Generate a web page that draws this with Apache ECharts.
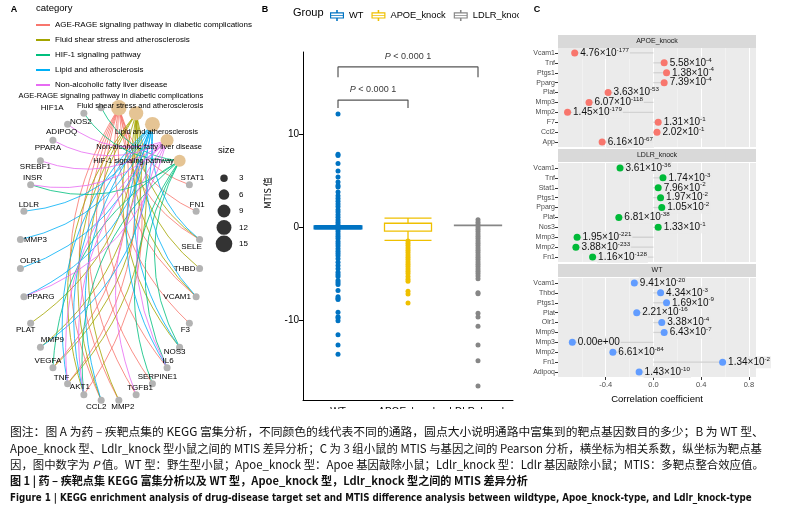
<!DOCTYPE html>
<html><head><meta charset="utf-8">
<script src="https://cdn.jsdelivr.net/npm/echarts@6/dist/echarts.min.js"></script>
<style>html,body{margin:0;padding:0;background:#fff}#c{width:801px;height:518px}</style>
</head><body><div id="c"></div>
<script>
// ================= Panel A data =================
const pathways = ['AGE-RAGE signaling pathway in diabetic complications','Fluid shear stress and atherosclerosis','HIF-1 signaling pathway','Lipid and atherosclerosis','Non-alcoholic fatty liver disease'];
const pathwayColors = ['#F8766D','#A3A500','#00BF7D','#00B0F6','#E76BF3'];
const pathwayCircleOrder = ['AGE-RAGE signaling pathway in diabetic complications','Fluid shear stress and atherosclerosis','Lipid and atherosclerosis','Non-alcoholic fatty liver disease','HIF-1 signaling pathway'];
const geneCircleOrder = ['STAT1','FN1','SELE','THBD','VCAM1','F3','NOS3','IL6','SERPINE1','TGFB1','MMP2','CCL2','AKT1','TNF','VEGFA','MMP9','PLAT','PPARG','OLR1','MMP3','LDLR','INSR','SREBF1','PPARA','ADIPOQ','NOS2','HIF1A'];
const genesAGE = ['STAT1','FN1','SELE','VCAM1','F3','IL6','SERPINE1','TGFB1','MMP2','CCL2','AKT1','TNF','VEGFA'];
const genesFluid = ['SELE','THBD','VCAM1','NOS3','MMP2','MMP9','PLAT','CCL2','AKT1','TNF','VEGFA'];
const genesHIF = ['HIF1A','NOS2','INSR','SERPINE1','IL6','NOS3','VEGFA','AKT1'];
const genesLipid = ['OLR1','LDLR','MMP3','MMP9','PPARG','CCL2','SELE','VCAM1','TNF','IL6','AKT1','NOS3'];
const genesNAFLD = ['ADIPOQ','PPARA','SREBF1','INSR','PPARG','TNF','IL6','TGFB1','AKT1'];
const pathwayGenes = [genesAGE, genesFluid, genesHIF, genesLipid, genesNAFLD];
const sizeLegend = [3,6,9,12,15];

// label offsets (style only)
const labelOffsets = {
 'AGE-RAGE signaling pathway in diabetic complications':[-8,-12],
 'Fluid shear stress and atherosclerosis':[4,-7],
 'Lipid and atherosclerosis':[4,8],
 'Non-alcoholic fatty liver disease':[-18,7],
 'HIF-1 signaling pathway':[-46,0],
 HIF1A:[-49,0], NOS2:[-3,8], ADIPOQ:[-6,7], PPARA:[-5,7], SREBF1:[-5,6], INSR:[2,-7], LDLR:[5,-7],
 MMP3:[15,0], OLR1:[10,-8], PPARG:[17,0], PLAT:[-5,7], MMP9:[12,-7], VEGFA:[-5,-7], TNF:[-6,-6],
 AKT1:[-4,-8], CCL2:[-5,7], MMP2:[4,7], TGFB1:[4,-7], SERPINE1:[5,-7], IL6:[1,-7], NOS3:[-5,5],
 F3:[-4,7], VCAM1:[-19,0], THBD:[-15,0], SELE:[-8,7], FN1:[1,-7], STAT1:[3,-7]
};

// ================= Panel B data =================
const groups = ['WT','APOE_knock','LDLR_knock'];
const groupColors = ['#0073C2','#EFC000','#868686'];
const boxStats = [[-0.15,-0.12,0,0.12,0.15],[-1.4,-0.4,0.43,0.46,1.0],[0.2,0.2,0.22,0.24,0.24]];
const wtMtis = [12.15,7.85,7.7,6.85,6.05,5.4,4.87,4.5,4.33,3.8,3.4,3.1,2.8,2.5,2.25,1.9,1.65,1.35,1.1,0.8,0.55,0.3,0.1,-0.2,-0.45,-0.7,-0.95,-1.2,-1.5,-1.75,-2.0,-2.3,-2.55,-2.8,-3.05,-3.37,-3.73,-4.09,-4.44,-4.8,-5.05,-5.27,-5.7,-5.9,-6.13,-6.77,-7.42,-7.6,-7.74,-9.1,-9.57,-9.71,-10.0,-11.5,-12.6,-13.6];
const apoeMtis = [-1.45,-1.7,-1.95,-2.2,-2.45,-2.7,-2.95,-3.2,-3.45,-3.7,-3.95,-4.2,-4.45,-4.7,-4.95,-5.27,-5.56,-5.77,-6.85,-7.13,-8.1];
const ldlrMtis = [0.83,0.55,0.3,0.05,-0.2,-0.45,-0.7,-0.95,-1.2,-1.45,-1.7,-1.95,-2.2,-2.45,-2.7,-2.95,-3.2,-3.45,-3.7,-3.95,-4.2,-4.45,-4.7,-4.95,-5.2,-5.5,-7.0,-7.1,-9.2,-9.6,-10.6,-12.6,-14.3,-17.0];
const groupPoints = [wtMtis, apoeMtis, ldlrMtis];
const bTicks = [-10,0,10];
const bracket1 = {from:0, to:1, top:13.65, foot:12.8, text:'P < 0.000 1'};
const bracket2 = {from:0, to:2, top:17.2, foot:16.1, text:'P < 0.000 1'};

// ================= Panel C data =================
const apoeGenes = ['Vcam1','Tnf','Ptgs1','Pparg','Plat','Mmp3','Mmp2','F7','Ccl2','App'];
const apoeCorr = [-0.66,0.09,0.11,0.09,-0.38,-0.54,-0.72,0.04,0.03,-0.43];
const apoeP = ['4.76×10^-177','5.58×10^-4','1.38×10^-4','7.39×10^-4','3.63×10^-53','6.07×10^-118','1.45×10^-179','1.31×10^-1','2.02×10^-1','6.16×10^-67'];
const ldlrGenes = ['Vcam1','Tnf','Stat1','Ptgs1','Pparg','Plat','Nos3','Mmp3','Mmp2','Fn1'];
const ldlrCorr = [-0.28,0.08,0.04,0.06,0.07,-0.29,0.04,-0.64,-0.65,-0.51];
const ldlrP = ['3.61×10^-36','1.74×10^-3','7.96×10^-2','1.97×10^-2','1.05×10^-2','6.81×10^-38','1.33×10^-1','1.95×10^-221','3.88×10^-233','1.16×10^-128'];
const wtGenes = ['Vcam1','Thbd','Ptgs1','Plat','Olr1','Mmp9','Mmp3','Mmp2','Fn1','Adipoq'];
const wtCorr = [-0.16,0.06,0.11,-0.14,0.07,0.09,-0.68,-0.34,0.58,-0.12];
const wtP = ['9.41×10^-20','4.34×10^-3','1.69×10^-9','2.21×10^-16','3.38×10^-4','6.43×10^-7','0.00e+00','6.61×10^-84','1.34×10^-2','1.43×10^-10'];
const cTicks = [-0.4,0,0.4,0.8];
const facets = [
  {title:'APOE_knock', genes:apoeGenes, corr:apoeCorr, p:apoeP, color:'#F8766D'},
  {title:'LDLR_knock', genes:ldlrGenes, corr:ldlrCorr, p:ldlrP, color:'#00BA38'},
  {title:'WT', genes:wtGenes, corr:wtCorr, p:wtP, color:'#619CFF'}
];

// ================= build =================
const FONT = 'Liberation Sans, Arial, sans-serif';
const circleNodes = pathwayCircleOrder.concat(geneCircleOrder);
const N = circleNodes.length;
const idx = {}; circleNodes.forEach((n,i)=>idx[n]=i);
const pos = circleNodes.map((n,i)=>{const t=(i+0.5)*2*Math.PI/N; return [Math.sin(t), Math.cos(t)];});
const sizeOf = c => 4.3*Math.sqrt(c);

const nodes = circleNodes.map((name,i)=>{
  const pi = pathways.indexOf(name);
  const isPath = pi >= 0;
  return {
    name, value: pos[i],
    category: isPath ? pi : undefined,
    symbolSize: isPath ? sizeOf(pathwayGenes[pi].length) : 7,
    itemStyle: {color: isPath ? '#E5C494' : '#B3B3B3'},
    label: {show:true, position:'inside', offset: labelOffsets[name] || [0,0],
      fontSize: isPath ? 7.5 : 8, color:'#000', fontFamily: FONT}
  };
});
const links = [];
pathways.forEach((p,pi)=>{
  pathwayGenes[pi].forEach(g=>{
    const s = idx[p], t = idx[g];
    const X1 = 90*pos[s][0], Y1 = -147*pos[s][1], X2 = 90*pos[t][0], Y2 = -147*pos[t][1];
    const MX=(X1+X2)/2, MY=(Y1+Y2)/2;
    const d = (Y2-Y1)*(-MX) + (X1-X2)*(-MY);
    links.push({source:s, target:t, lineStyle:{color:pathwayColors[pi], width:0.9, opacity:0.9, curveness: d>0?0.27:-0.27}});
  });
});

const boxIcon = 'path://M9,0H11V3H9Z M1,3H19V11H1Z M2.5,4.5V6.5H17.5V4.5Z M2.5,7.5V9.5H17.5V7.5Z M9,11H11V14H9Z';

function pRich(s){
  const k = s.indexOf('^');
  if (k < 0) return '{b|'+s+'}';
  return '{b|'+s.slice(0,k)+'}{s|'+s.slice(k+1)+'}';
}

const grids = [
  {left:2, top:92.3, width:216, height:323.4},
  {left:214, top:170, width:20, height:82},
  {left:303, top:52, width:210, height:348},
  {left:558, top:48, width:198, height:99},
  {left:558, top:163, width:198, height:99},
  {left:558, top:278, width:198, height:99}
];
grids.forEach((g,i)=>{ if(i>=3){ g.show=true; g.backgroundColor='#EBEBEB'; g.borderWidth=0; } });

const xAxes = [
  {gridIndex:0, type:'value', min:-1.2, max:1.2, show:false},
  {gridIndex:1, type:'value', min:0, max:1, show:false},
  {gridIndex:2, type:'category', data:groups, boundaryGap:true,
    axisLine:{onZero:false, lineStyle:{color:'#000', width:1}}, axisTick:{alignWithLabel:true, length:4, lineStyle:{color:'#000'}},
    axisLabel:{fontSize:10, color:'#000', margin:7, interval:0}},
  {gridIndex:2, type:'value', min:-0.5, max:2.5, show:false}
];
const yAxes = [
  {gridIndex:0, type:'value', min:-1.1, max:1.1, show:false},
  {gridIndex:1, type:'category', data:sizeLegend.map(String), inverse:true, position:'right',
    axisLine:{show:false}, axisTick:{show:false}, axisLabel:{fontSize:8, color:'#000', margin:5}},
  {gridIndex:2, type:'value', min:-18.5, max:18.8, splitLine:{show:false},
    axisLine:{show:true, onZero:false, lineStyle:{color:'#000', width:1}},
    axisTick:{show:true, length:4, lineStyle:{color:'#000'}, customValues:bTicks},
    axisLabel:{fontSize:10, color:'#000', customValues:bTicks, margin:4}}
];
facets.forEach((f,k)=>{
  const last = k===2;
  xAxes.push({gridIndex:3+k, type:'value', min:-0.8, max:0.86, interval:0.4,
    axisLine:{show:false, onZero:false},
    axisTick:{show:last, length:3, lineStyle:{color:'#333'}, customValues:cTicks},
    axisLabel:{show:last, fontSize:7.5, color:'#4D4D4D', margin:4, customValues:cTicks,
      formatter:v=> (Math.abs(v)<1e-9 ? '0.0' : v.toFixed(1))},
    splitLine:{show:true, lineStyle:{color:'#fff', width:1}},
    minorTick:{show:false, splitNumber:2},
    minorSplitLine:{show:true, lineStyle:{color:'#F7F7F7', width:0.6}},
    name: last ? 'Correlation coefficient' : '', nameLocation:'middle', nameGap:17,
    nameTextStyle:{fontSize:9.5, color:'#000'}
  });
  yAxes.push({gridIndex:3+k, type:'category', data:f.genes, inverse:true,
    axisLine:{show:false, onZero:false}, axisTick:{show:true, alignWithLabel:true, length:3, lineStyle:{color:'#333'}},
    axisLabel:{fontSize:7, color:'#4D4D4D', margin:3}, splitLine:{show:false}});
});

const series = [];
series.push({type:'graph', coordinateSystem:'cartesian2d', xAxisIndex:0, yAxisIndex:0,
  data:nodes, links, categories: pathways.map((p,i)=>({name:p, itemStyle:{color:pathwayColors[i]}})),
  symbol:'circle', emphasis:{disabled:true}, silent:true, z:3});
series.push({type:'scatter', xAxisIndex:1, yAxisIndex:1, silent:true,
  data: sizeLegend.map((s,i)=>({value:[0.5,i], symbolSize:sizeOf(s)})), itemStyle:{color:'#000'}});
series.push({type:'boxplot', xAxisIndex:2, yAxisIndex:2, boxWidth:[47,47], silent:true,
  data: boxStats.map((b,i)=>({value:b, itemStyle:{color:'#fff', borderColor:groupColors[i], borderWidth: i===0?2:1.3}})), z:2});
groups.forEach((g,i)=>{
  series.push({type:'scatter', name:g, xAxisIndex:2, yAxisIndex:2, symbolSize:5, silent:true,
    itemStyle:{color:groupColors[i], opacity:1}, data: groupPoints[i].map(v=>[i, v]), z:3});
});
[bracket1, bracket2].forEach(b=>{
  series.push({type:'line', xAxisIndex:3, yAxisIndex:2, symbol:'none', silent:true,
    lineStyle:{color:'#555', width:1.2},
    data:[[b.from,b.foot],[b.from,b.top],[b.to,b.top],[b.to,b.foot]]});
  series.push({type:'scatter', xAxisIndex:3, yAxisIndex:2, symbolSize:0, silent:true,
    data:[{value:[(b.from+b.to)/2, b.top], label:{show:true, position:'top', distance:6,
      formatter:'{i|P}{n| < 0.000 1}', rich:{i:{fontStyle:'italic', fontSize:9, color:'#000'}, n:{fontSize:9, color:'#000'}}}}]});
});
facets.forEach((f,k)=>{
  series.push({type:'bar', xAxisIndex:4+k, yAxisIndex:3+k, barWidth:1.3, silent:true, z:2,
    itemStyle:{color:'#D2D2D2'}, data:f.corr});
  series.push({type:'scatter', xAxisIndex:4+k, yAxisIndex:3+k, symbolSize:7, silent:true,
    itemStyle:{color:f.color, opacity:1}, z:4,
    data:f.corr.map((c,j)=>({value:[c,j], label:{show:true, position:'right', distance:1,
      formatter:pRich(f.p[j]), backgroundColor:'rgba(235,235,235,0.85)', padding:[0,1],
      rich:{b:{fontSize:10, color:'#111', lineHeight:12, fontFamily:FONT}, s:{fontSize:6.2, color:'#111', lineHeight:7, verticalAlign:'top', fontFamily:FONT}}}}))});
});

const graphic = [];
[['A',14,10],['B',265,10],['C',537,10]].forEach(a=>graphic.push({type:'text', x:a[1], y:a[2], z:60,
  style:{text:a[0], fontSize:9, fontWeight:'bold', fill:'#000', align:'center', verticalAlign:'middle', fontFamily:FONT}}));
graphic.push({type:'text', x:36, y:8, z:60, style:{text:'category', fontSize:9.5, fill:'#000', verticalAlign:'middle', fontFamily:FONT}});
graphic.push({type:'text', x:218, y:150, z:60, style:{text:'size', fontSize:9.5, fill:'#000', verticalAlign:'middle', fontFamily:FONT}});
graphic.push({type:'text', x:293, y:13, z:60, style:{text:'Group', fontSize:11, fill:'#000', verticalAlign:'middle', fontFamily:FONT}});
graphic.push({type:'text', x:268, y:193, rotation:Math.PI/2, z:60, style:{text:'MTIS 值', fontSize:9, fill:'#000', align:'center', verticalAlign:'middle', fontFamily:'Noto Sans CJK SC, '+FONT}});
facets.forEach((f,k)=>{
  const y0 = [35,149,264][k];
  graphic.push({type:'rect', z:60, shape:{x:558, y:y0, width:198, height:13}, style:{fill:'#D9D9D9'}});
  graphic.push({type:'text', x:657, y:y0+6.5, z:61, style:{text:f.title, fontSize:7, fill:'#1A1A1A', align:'center', verticalAlign:'middle', fontFamily:FONT}});
});
graphic.push({type:'rect', z:50, shape:{x:519, y:0, width:14, height:28}, style:{fill:'#fff'}});
graphic.push({type:'rect', z:50, shape:{x:280, y:409, width:240, height:109}, style:{fill:'#fff'}});
const CJK = 'Noto Sans CJK SC, sans-serif';
const cap = [
  {y:432, t:'图注：图 A 为药 – 疾靶点集的 KEGG 富集分析，不同颜色的线代表不同的通路，圆点大小说明通路中富集到的靶点基因数目的多少；B 为 WT 型、', w:'normal', fs:11.8},
  {y:449, t:'Apoe_knock 型、Ldlr_knock 型小鼠之间的 MTIS 差异分析；C 为 3 组小鼠的 MTIS 与基因之间的 Pearson 分析，横坐标为相关系数，纵坐标为靶点基', w:'normal', fs:11.4},
  {y:465, t:'因，图中数字为 {i|P} 值。WT 型：野生型小鼠；Apoe_knock 型：Apoe 基因敲除小鼠；Ldlr_knock 型：Ldlr 基因敲除小鼠；MTIS：多靶点整合效应值。', w:'normal', fs:11.4},
  {y:481, t:'图 1 | 药 – 疾靶点集 KEGG 富集分析以及 WT 型，Apoe_knock 型，Ldlr_knock 型之间的 MTIS 差异分析', w:'bold', fs:11.1}
];
cap.forEach(c=>graphic.push({type:'text', x:10, y:c.y, z:60, style:{text:c.t, fontSize:c.fs, fontWeight:c.w, fill:'#111', verticalAlign:'middle', fontFamily:CJK,
  rich:{i:{fontStyle:'italic', fontSize:c.fs, fontFamily:CJK, fill:'#111'}}}}));
graphic.push({type:'text', x:10, y:498, z:60, style:{text:'Figure 1 | KEGG enrichment analysis of drug-disease target set and MTIS difference analysis between wildtype, Apoe_knock-type, and Ldlr_knock-type',
  fontSize:9.7, fontWeight:'bold', fill:'#111', verticalAlign:'middle', fontFamily:'Liberation Sans Narrow, DejaVu Sans Condensed, sans-serif'}});

const chart = echarts.init(document.getElementById('c'));
chart.setOption({
  animation:false, backgroundColor:'#fff', textStyle:{fontFamily:FONT},
  legend:[
    {data:pathways, orient:'vertical', left:31, top:16, itemWidth:14, itemHeight:2, icon:'rect', itemGap:7, selectedMode:false,
      textStyle:{fontSize:8, color:'#000', fontFamily:FONT}},
    {data:groups.map(g=>({name:g, icon:boxIcon})), left:325, top:5, itemWidth:14, itemHeight:13, itemGap:8, selectedMode:false,
      textStyle:{fontSize:9.3, color:'#000', fontFamily:FONT}}
  ],
  grid:grids, xAxis:xAxes, yAxis:yAxes, series, graphic
});
</script></body></html>
